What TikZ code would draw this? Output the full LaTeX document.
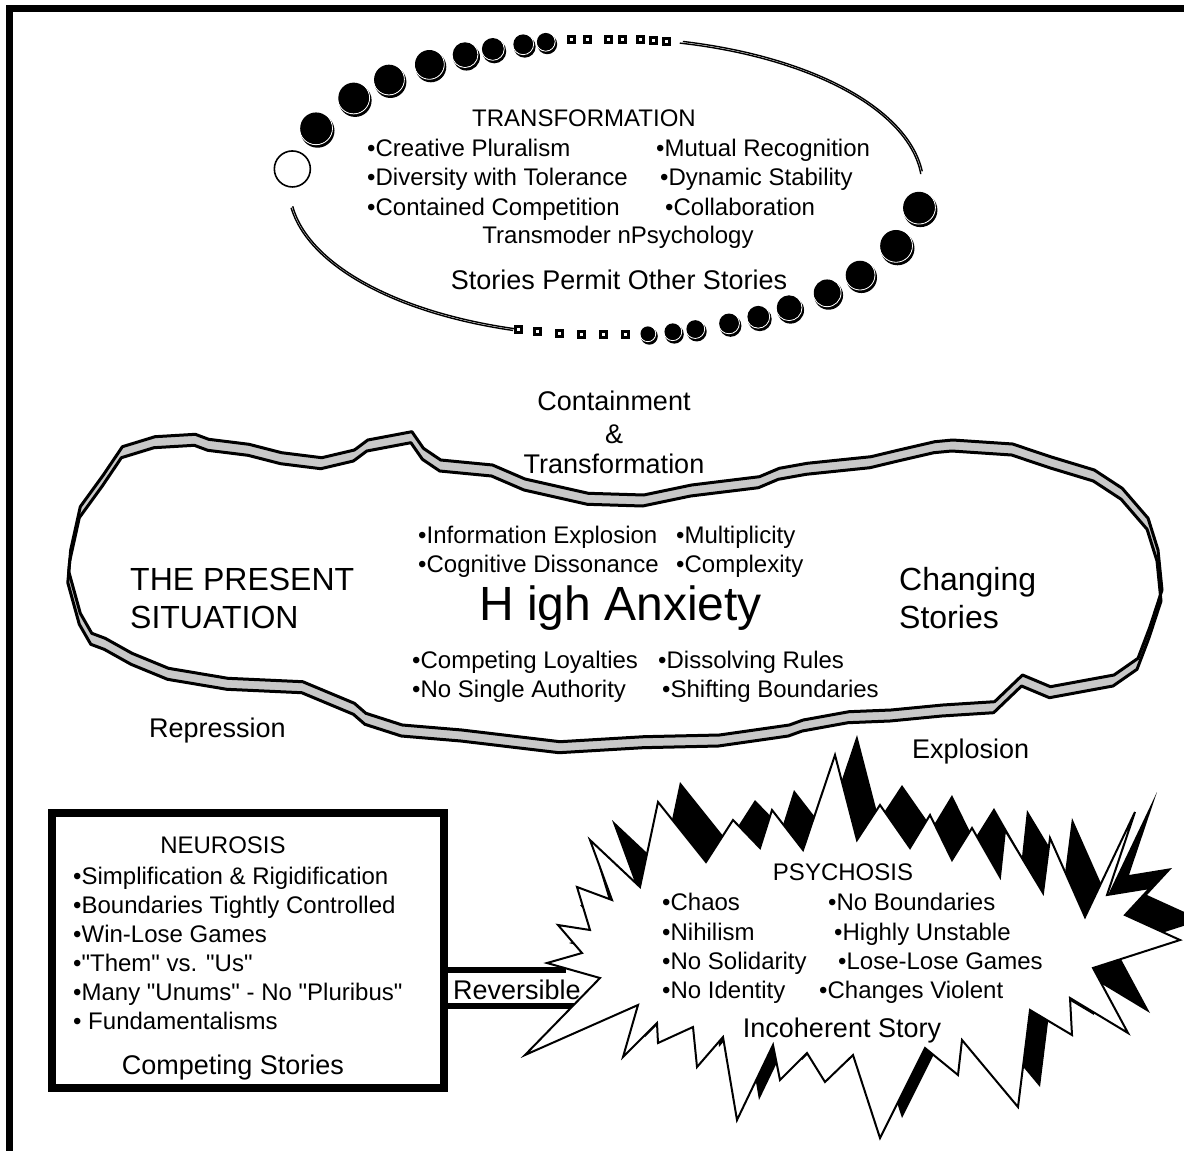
\documentclass[tikz,border=0pt]{standalone}
\usepackage{fontspec}
\newfontfamily\arialf{Liberation Sans}
\definecolor{cloudgray}{HTML}{C8C8C8}
\begin{document}
\begin{tikzpicture}[x=1pt,y=-1pt,
  tf/.style={font=\arialf\fontsize{24}{29}\selectfont, inner sep=0pt},
  tm/.style={font=\arialf\fontsize{27}{32}\selectfont, inner sep=0pt},
  tl/.style={font=\arialf\fontsize{32}{38}\selectfont, inner sep=0pt},
  th/.style={font=\arialf\fontsize{48}{58}\selectfont, inner sep=0pt},
  outline/.style={line width=3pt, line join=round},
  eline/.style={line width=1.4pt}]
\useasboundingbox (0,0) rectangle (1184,1151);
\fill[white] (0,0) rectangle (1184,1151);
% frame
\draw[line width=7pt, line join=miter] (9,1170) -- (9,8.5) -- (1200,8.5);

% ---------- ellipse with dots ----------
\coordinate (ec) at (606,187);
\draw[eline] (ec) ++(283.5:316 and 148) arc[start angle=283.5, end angle=355, x radius=316, y radius=148];
\draw[eline] (ec) ++(284:318 and 150) arc[start angle=284, end angle=354, x radius=318, y radius=150];
\draw[eline] (ec) ++(106:316 and 148) arc[start angle=106, end angle=172.5, x radius=316, y radius=148];
\draw[eline] (ec) ++(107:318 and 150) arc[start angle=107, end angle=172, x radius=318, y radius=150];
\foreach \t/\r in {203.4/17, 217/16.5, 226.6/16, 236/15.5, 243.5/13.5, 249/12, 254.8/11, 259/10,
                   8/17, 23.4/17, 36.5/15.5, 45.6/14.5, 54.6/13.5, 61.2/12, 67.1/11, 73.6/10, 77.8/9.5, 82.4/8.5}{
  \path (ec) ++(\t:316 and 148) coordinate (d);
  \pgfmathsetmacro\ra{\r-0.6}
  \pgfmathsetmacro\rb{\r-1.2}
  \fill (d) ++(1.5,2.5) circle[radius=\r];
  \draw[white, line width=1pt] (d) circle[radius=\ra];
  \fill (d) circle[radius=\rb];
}
\foreach \t in {263.8,266.7,270.4,273,276.2,278.6,281, 86.4,90.4,94.5,98.5,102.6,106}{
  \path (ec) ++(\t:316 and 148) coordinate (q);
  \fill (q) ++(-4.5,-4.5) rectangle ++(9,9);
  \fill[white] (q) ++(-1.5,-1.5) rectangle ++(3,3);
}
\path (ec) ++(187:316 and 148) coordinate (wc);
\draw[line width=1.6pt, fill=white] (wc) circle[radius=18];

% ---------- cloud ----------
\def\cloudpath{(122.4,446.7) -- (155,436.7) -- (195.3,434.3) -- (208.7,439.3) -- (249,444.3) -- (281.6,452.7) -- (321.8,457.7) -- (354.4,450) -- (367.8,440) -- (411.9,431.7) -- (423.4,448.3) -- (440.7,460) -- (492.5,465) -- (525,479) -- (588.3,493.3) -- (643.7,495) -- (691.6,485) -- (759.4,476.7) -- (779.3,468.3) -- (807.2,463.3) -- (871,456.7) -- (898.9,450) -- (934.8,441.7) -- (952.7,440) -- (1012.6,444) -- (1050.4,456.7) -- (1094.3,470) -- (1122.2,488.3) -- (1148.1,518.3) -- (1158,550) -- (1162,590) -- (1150,626.7) -- (1138,658.3) -- (1114,675) -- (1050.4,686.7) -- (1022.5,675) -- (994.6,701.7) -- (942.8,705) -- (891,710) -- (849,711.7) -- (803.2,720) -- (789.3,725) -- (719.5,735) -- (643.7,736.7) -- (560,741.7) -- (461.8,730) -- (402.3,725) -- (365.9,713.3) -- (354.4,703.3) -- (302.7,681.7) -- (227.9,678.3) -- (168.5,668.3) -- (132,653.3) -- (105.2,638.3) -- (91.8,633.3) -- (80.3,613.3) -- (68.8,571.7) -- (70.7,550) -- (80.3,506.7) -- (103.3,475) -- cycle}
\fill[cloudgray] \cloudpath;
\fill[cloudgray, shift={(-1,11)}] \cloudpath;
\begin{scope}
  \clip \cloudpath;
  \fill[white, shift={(-1,11)}] \cloudpath;
\end{scope}
\draw[outline] \cloudpath;
\draw[outline, shift={(-1,11)}] \cloudpath;

% ---------- neurosis box and reversible band ----------
\node[draw, line width=7.5pt, fill=white, minimum width=392pt, minimum height=275pt, inner sep=0pt] (neubox) at (248,950.5) {};
\coordinate (bandend) at (585,988);
\draw[line width=6pt] (neubox.east |- 0,970) -- (566,970);
\draw[line width=6pt] (neubox.east |- 0,1006) -- (bandend |- 0,1006);

% ---------- starburst ----------
\def\starpath{(525,1055) -- (600,978) -- (547,963) -- (582,953) -- (558,925) -- (590,930) -- (577,887) -- (612,900) -- (590,840) -- (640,887) -- (658,802) -- (706,862) -- (733,820) -- (760,848) -- (772,810) -- (803,850) -- (835,755) -- (857,840) -- (880,805) -- (910,848) -- (930,815) -- (952,860) -- (972,828) -- (1000,877) -- (1005,830) -- (1043,893) -- (1050,838) -- (1085,917) -- (1135,812) -- (1107,895) -- (1150,888) -- (1125,915) -- (1180,940) -- (1093,968) -- (1128,1033) -- (1070,998) -- (1072,1035) -- (1030,1010) -- (1018,1107) -- (962,1040) -- (958,1075) -- (925,1048) -- (880,1138) -- (853,1055) -- (825,1082) -- (807,1053) -- (780,1080) -- (773,1045) -- (737,1120) -- (723,1037) -- (697,1067) -- (693,1027) -- (658,1043) -- (657,1023) -- (623,1057) -- (638,1005) -- cycle}
\fill[black, shift={(22,-20)}] \starpath;
\draw[line width=2pt, line join=miter, fill=white] \starpath;

% ---------- texts: transformation ----------
\node[tf, anchor=base] (tr0) at (584,126.5) {TRANSFORMATION};
\node[tf, anchor=base west] (tr1) at (367,156.5) {•Creative Pluralism};
\node[tf, anchor=base west] (tr2) at (367,185.5) {•Diversity with Tolerance};
\node[tf, anchor=base west] (tr3) at (367,215.5) {•Contained Competition};
\node[tf, anchor=base west] (tr4) at (656,156.5) {•Mutual Recognition};
\node[tf, anchor=base west] (tr5) at (660,185.5) {•Dynamic Stability};
\node[tf, anchor=base west] (tr6) at (665,215.5) {•Collaboration};
\node[tf, anchor=base] (tr7) at (618,243.5) {Transmoder nPsychology};
\node[tm, anchor=base] (tr8) at (619,289.5) {Stories Permit Other Stories};

% ---------- texts: present situation ----------
\node[tm, anchor=base] (ct1) at (614,410) {Containment};
\node[tm, anchor=base] (ct2) at (614,443) {\&};
\node[tm, anchor=base] (ct3) at (614,473) {Transformation};
\node[tf, anchor=base west] (ps1) at (418,543.5) {•Information Explosion};
\node[tf, anchor=base west] (ps2) at (418,572.5) {•Cognitive Dissonance};
\node[tf, anchor=base west] (ps3) at (676,543.5) {•Multiplicity};
\node[tf, anchor=base west] (ps4) at (676,572.5) {•Complexity};
\node[th, anchor=base west] (ha) at (479,620) {H igh Anxiety};
\node[tl, anchor=base west] (ps5) at (130,590) {THE PRESENT};
\node[tl, anchor=base west] (ps6) at (130,628) {SITUATION};
\node[tl, anchor=base west] (ps7) at (899,590) {Changing};
\node[tl, anchor=base west] (ps8) at (899,628) {Stories};
\node[tf, anchor=base west] (ps9) at (412,668.5) {•Competing Loyalties};
\node[tf, anchor=base west] (ps10) at (412,697) {•No Single Authority};
\node[tf, anchor=base west] (ps11) at (658,668.5) {•Dissolving Rules};
\node[tf, anchor=base west] (ps12) at (662,697) {•Shifting Boundaries};
\node[tm, anchor=base west] (rep) at (149,737) {Repression};
\node[tm, anchor=base west] (exp) at (912,758) {Explosion};

% ---------- texts: neurosis ----------
\node[tf, anchor=base] (ne0) at (223,853.5) {NEUROSIS};
\node[tf, anchor=base west] (ne1) at (73,884.5) {•Simplification \& Rigidification};
\node[tf, anchor=base west] (ne2) at (73,913.5) {•Boundaries Tightly Controlled};
\node[tf, anchor=base west] (ne3) at (73,942.5) {•Win-Lose Games};
\node[tf, anchor=base west] (ne4) at (73,971.5) {•"Them" vs. "Us"};
\node[tf, anchor=base west] (ne5) at (73,1000.5) {•Many "Unums" - No "Pluribus"};
\node[tf, anchor=base west] (ne6) at (73,1029.5) {• Fundamentalisms};
\node[tm, anchor=base] (ne7) at (233,1074) {Competing Stories};
\node[tm, anchor=base west] (rev) at (453,999) {Reversible};

% ---------- texts: psychosis ----------
\node[tf, anchor=base] (py0) at (843,880.5) {PSYCHOSIS};
\node[tf, anchor=base west] (py1) at (662,910.5) {•Chaos};
\node[tf, anchor=base west] (py2) at (662,940.5) {•Nihilism};
\node[tf, anchor=base west] (py3) at (662,969.5) {•No Solidarity};
\node[tf, anchor=base west] (py4) at (662,998.5) {•No Identity};
\node[tf, anchor=base west] (py5) at (828,910.5) {•No Boundaries};
\node[tf, anchor=base west] (py6) at (834,940.5) {•Highly Unstable};
\node[tf, anchor=base west] (py7) at (838,969.5) {•Lose-Lose Games};
\node[tf, anchor=base west] (py8) at (819,998.5) {•Changes Violent};
\node[tm, anchor=base] (py9) at (842,1037) {Incoherent Story};
\end{tikzpicture}
\end{document}
